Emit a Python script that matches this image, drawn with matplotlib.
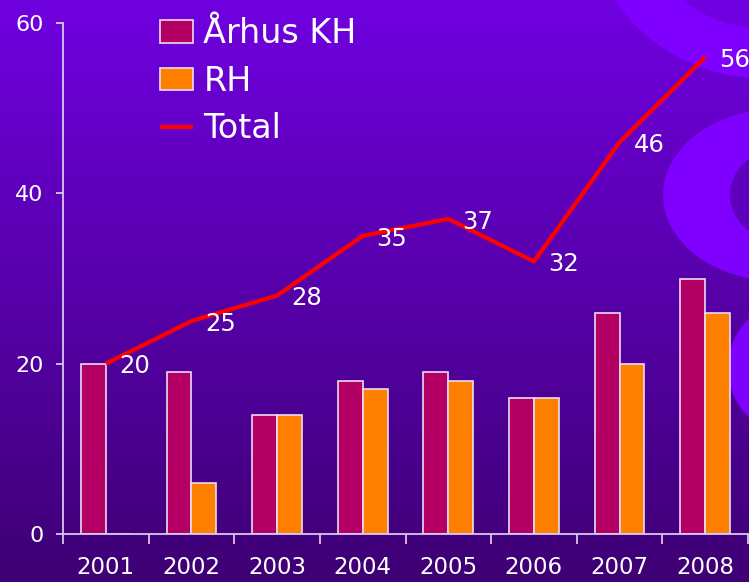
import numpy as np
import matplotlib
matplotlib.use("Agg")
import matplotlib.pyplot as plt
from matplotlib.patches import Ellipse

# ---- data ----
years = ["2001", "2002", "2003", "2004", "2005", "2006", "2007", "2008"]
aarhus_kh = [20, 19, 14, 18, 19, 16, 26, 30]
rh = [0, 6, 14, 17, 18, 16, 20, 26]
total = [20, 25, 28, 35, 37, 32, 46, 56]
y_ticks = [0, 20, 40, 60]

W, H = 749, 582
fig = plt.figure(figsize=(W / 100, H / 100), dpi=100)

# ---- background ----
bg = fig.add_axes([0, 0, 1, 1], zorder=0)
bg.set_xlim(0, W)
bg.set_ylim(H, 0)
bg.axis("off")
top = np.array([112, 0, 224]) / 255
bot = np.array([62, 0, 116]) / 255
t = np.linspace(0, 1, 256)[:, None]
grad = (top[None, :] * (1 - t) + bot[None, :] * t)[:, None, :]
grad = np.repeat(grad, 2, axis=1)
bg.imshow(grad, extent=[0, W, H, 0], aspect="auto", interpolation="bilinear")
swirl = "#8000FF"

def ring(cx, cy, rxo, ryo, rxi, ryi):
    frac = min(max(cy / H, 0), 1)
    inner_col = top * (1 - frac) + bot * frac
    bg.add_patch(Ellipse((cx, cy), 2 * rxo, 2 * ryo, facecolor=swirl, edgecolor="none"))
    bg.add_patch(Ellipse((cx, cy), 2 * rxi, 2 * ryi, facecolor=inner_col, edgecolor="none"))

ring(762, -100, 178, 178, 128, 128)
ring(778, 195, 115, 86, 48, 45)
ring(800, 368, 72, 70, 42, 42)

# ---- main axes ----
ax = fig.add_axes([63 / W, 1 - 534 / H, (748 - 63) / W, (534 - 23) / H], zorder=1)
ax.patch.set_alpha(0)
x = np.arange(len(years))
bw = 0.29
edge = "#EADCF2"
h1 = ax.bar(x - bw / 2, aarhus_kh, bw, color="#B40064", edgecolor=edge, linewidth=1.2, label="Århus KH", zorder=2)
h2 = ax.bar(x + bw / 2, rh, bw, color="#FF8000", edgecolor=edge, linewidth=1.2, label="RH", zorder=2)
h3, = ax.plot(x, total, color="#FF0000", linewidth=3, label="Total", zorder=3, solid_capstyle="butt")
for xi, v in zip(x, total):
    ax.annotate(str(v), (xi, v), xytext=(10, -2), textcoords="offset points",
                ha="left", va="center", color="white", fontsize=17.5, zorder=4)

ax.set_xlim(-0.5, len(years) - 0.5)
ax.set_ylim(0, 60)
ax.set_yticks(y_ticks)
ax.set_xticks(x)
ax.set_xticklabels(years)
ax.set_xticks(np.arange(-0.5, len(years)), minor=True)
spine_col = "#D8C8EC"
for s in ["top", "right"]:
    ax.spines[s].set_visible(False)
for s in ["left", "bottom"]:
    ax.spines[s].set_color(spine_col)
    ax.spines[s].set_linewidth(1.3)
ax.tick_params(axis="x", which="major", length=0, pad=16, labelsize=16.5, labelcolor="white")
ax.tick_params(axis="x", which="minor", length=7, width=1.3, color=spine_col, direction="out")
ax.tick_params(axis="y", length=5, width=1.3, color=spine_col, pad=9, labelsize=16, labelcolor="white")

leg = ax.legend([h1, h2, h3], ["Århus KH", "RH", "Total"],
                loc="upper left", bbox_to_anchor=(0.1416, 1.011), frameon=False, fontsize=24,
                labelcolor="white", handlelength=1.0, handleheight=0.66, handletextpad=0.3,
                labelspacing=0.43, borderaxespad=0, borderpad=0)

fig.savefig("out.png", dpi=100)
